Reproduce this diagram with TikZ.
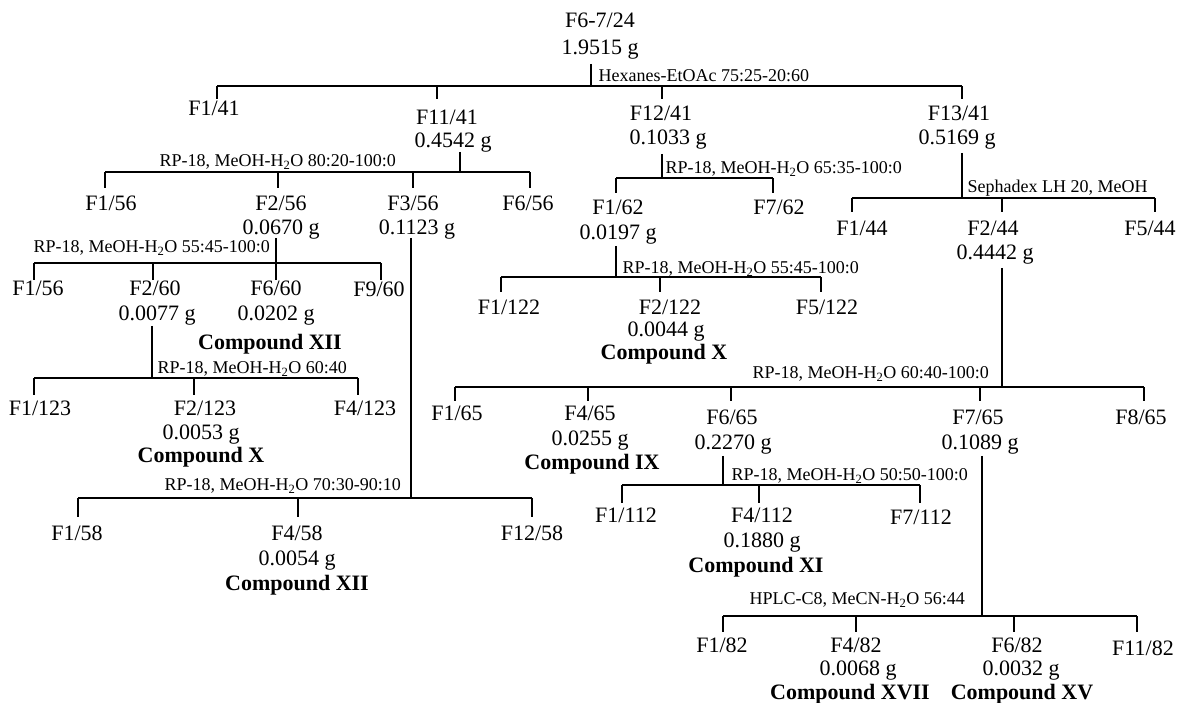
\documentclass[tikz,border=0pt]{standalone}
\usepackage{fontspec}
\setmainfont{Liberation Serif}
\newcommand\tk[5]{\path ([xshift=#3pt]#2.north) coordinate (tmp); \coordinate (#1) at (tmp |- #4); \draw (#1) -- ++(0,#5);}
\newcommand\stm[4]{\path ([xshift=#2pt]#1.south) coordinate (tmp); \draw (tmp) ++(0,#3) -- (tmp |- #4);}
\begin{document}
\begin{tikzpicture}[x=1pt,y=-1pt,line width=1.2pt,
  nm/.style={font=\fontsize{22}{24}\selectfont,inner sep=0pt,text height=14.6pt,text depth=0pt,anchor=center},
  cp/.style={nm,font=\fontsize{22}{24}\selectfont\bfseries},
  lb/.style={font=\fontsize{18}{20}\selectfont,inner sep=0pt,text height=11.9pt,text depth=0pt,anchor=west}]
\useasboundingbox[fill=white] (0,0) rectangle (1181,702);
% root
\node[nm] (r1) at (600,20) {F6-7/24};
\node[nm] (r2) at (600,47) {1.9515 g};
\node[nm] (a1) at (214,108) {F1/41};
\node[nm] (a2) at (447,117) {F11/41};
\node[nm] (a2m) at (453,140) {0.4542 g};
\node[nm] (a3) at (661,113) {F12/41};
\node[nm] (a3m) at (668,137) {0.1033 g};
\node[nm] (a4) at (959,113) {F13/41};
\node[nm] (a4m) at (957,137) {0.5169 g};
\coordinate (Y0) at (0,86);
\node[lb] (L0) at (598,76) {Hexanes-EtOAc 75:25-20:60};
\stm{r2}{-9}{9}{Y0}
\tk{t01}{a1}{3}{Y0}{13}\tk{t02}{a2}{-10}{Y0}{13}\tk{t03}{a3}{1}{Y0}{13}\tk{t04}{a4}{3}{Y0}{13}
\draw (t01) -- (t04);
% split 1
\node[nm] (b1) at (111,203) {F1/56};
\node[nm] (b2) at (281,203) {F2/56};
\node[nm] (b2m) at (281,227) {0.0670 g};
\node[nm] (b3) at (413,203) {F3/56};
\node[nm] (b3m) at (417,227) {0.1123 g};
\node[nm] (b4) at (528,203) {F6/56};
\coordinate (Y1) at (0,172);
\node[lb] (L1) at (159,161) {RP-18, MeOH-H\textsubscript{2}O 80:20-100:0};
\stm{a2m}{7}{4}{Y1}
\tk{t11}{b1}{-6}{Y1}{16}\tk{t12}{b2}{-3}{Y1}{16}\tk{t13}{b3}{0}{Y1}{16}\tk{t14}{b4}{2}{Y1}{16}
\draw (t11) -- (t14);
% split 2
\node[nm] (c1) at (38,288) {F1/56};
\node[nm] (c2) at (155,288) {F2/60};
\node[nm] (c2m) at (157,313) {0.0077 g};
\node[nm] (c3) at (276,288) {F6/60};
\node[nm] (c3m) at (276,313) {0.0202 g};
\node[cp] (c3c) at (270,342) {Compound XII};
\node[nm] (c4) at (379,289) {F9/60};
\coordinate (Y2) at (0,263);
\node[lb] (L2) at (33,247) {RP-18, MeOH-H\textsubscript{2}O 55:45-100:0};
\stm{b2m}{-5}{3}{Y2}
\tk{t21}{c1}{-4}{Y2}{17}\tk{t22}{c2}{-2}{Y2}{17}\tk{t23}{c3}{0}{Y2}{17}\tk{t24}{c4}{2}{Y2}{17}
\draw (t21) -- (t24);
% split 3
\node[nm] (d1) at (40,408) {F1/123};
\node[nm] (d2) at (205,408) {F2/123};
\node[nm] (d2m) at (201,432) {0.0053 g};
\node[cp] (d2c) at (201,455) {Compound X};
\node[nm] (d3) at (365,408) {F4/123};
\coordinate (Y3) at (0,378);
\node[lb] (L3) at (157,368) {RP-18, MeOH-H\textsubscript{2}O 60:40};
\stm{c2m}{-5}{5}{Y3}
\tk{t31}{d1}{-6}{Y3}{17}\tk{t32}{d2}{-11}{Y3}{17}\tk{t33}{d3}{-7}{Y3}{17}
\draw (t31) -- (t33);
% split 4
\node[nm] (e1) at (77,533) {F1/58};
\node[nm] (e2) at (297,533) {F4/58};
\node[nm] (e2m) at (297,558) {0.0054 g};
\node[cp] (e2c) at (297,583) {Compound XII};
\node[nm] (e3) at (532,533) {F12/58};
\coordinate (Y4) at (0,498);
\node[lb] (L4) at (164,485) {RP-18, MeOH-H\textsubscript{2}O 70:30-90:10};
\stm{b3m}{-6}{3}{Y4}
\tk{t41}{e1}{1}{Y4}{19}\tk{t42}{e2}{1}{Y4}{19}\tk{t43}{e3}{0}{Y4}{19}
\draw (t41) -- (t43);
% split 5
\node[nm] (f1) at (618,207) {F1/62};
\node[nm] (f1m) at (618,232) {0.0197 g};
\node[nm] (f2) at (779,207) {F7/62};
\coordinate (Y5) at (0,178);
\node[lb] (L5) at (665,168) {RP-18, MeOH-H\textsubscript{2}O 65:35-100:0};
\stm{a3m}{-6}{9}{Y5}
\tk{t51}{f1}{-2}{Y5}{15}\tk{t52}{f2}{-6}{Y5}{15}
\draw (t51) -- (t52);
% split 6
\node[nm] (g1) at (509,307) {F1/122};
\node[nm] (g2) at (670,307) {F2/122};
\node[nm] (g2m) at (666,329) {0.0044 g};
\node[cp] (g2c) at (664,352) {Compound X};
\node[nm] (g3) at (827,307) {F5/122};
\coordinate (Y6) at (0,277);
\node[lb] (L6) at (622,268) {RP-18, MeOH-H\textsubscript{2}O 55:45-100:0};
\stm{f1m}{-2}{6}{Y6}
\tk{t61}{g1}{-8}{Y6}{15}\tk{t62}{g2}{-10}{Y6}{15}\tk{t63}{g3}{-6}{Y6}{15}
\draw (t61) -- (t63);
% split 7
\node[nm] (h1) at (862,228) {F1/44};
\node[nm] (h2) at (993,228) {F2/44};
\node[nm] (h2m) at (995,252) {0.4442 g};
\node[nm] (h3) at (1150,228) {F5/44};
\coordinate (Y7) at (0,198);
\node[lb] (L7) at (967,187) {Sephadex LH 20, MeOH};
\stm{a4m}{5}{8}{Y7}
\tk{t71}{h1}{-10}{Y7}{14}\tk{t72}{h2}{9}{Y7}{14}\tk{t73}{h3}{5}{Y7}{14}
\draw (t71) -- (t73);
% split 8
\node[nm] (i1) at (457,413) {F1/65};
\node[nm] (i2) at (590,413) {F4/65};
\node[nm] (i2m) at (590,438) {0.0255 g};
\node[cp] (i2c) at (592,462) {Compound IX};
\node[nm] (i3) at (732,417) {F6/65};
\node[nm] (i3m) at (733,442) {0.2270 g};
\node[nm] (i4) at (978,417) {F7/65};
\node[nm] (i4m) at (980,442) {0.1089 g};
\node[nm] (i5) at (1141,417) {F8/65};
\coordinate (Y8) at (0,387);
\node[lb] (L8) at (752,373) {RP-18, MeOH-H\textsubscript{2}O 60:40-100:0};
\stm{h2m}{7}{8}{Y8}
\tk{t81}{i1}{-2}{Y8}{14}\tk{t82}{i2}{-2}{Y8}{14}\tk{t83}{i3}{-1}{Y8}{14}\tk{t84}{i4}{2}{Y8}{14}\tk{t85}{i5}{3}{Y8}{14}
\draw (t81) -- (t85);
% split 9
\node[nm] (j1) at (626,515) {F1/112};
\node[nm] (j2) at (762,515) {F4/112};
\node[nm] (j2m) at (762,540) {0.1880 g};
\node[cp] (j2c) at (756,565) {Compound XI};
\node[nm] (j3) at (921,517) {F7/112};
\coordinate (Y9) at (0,485);
\node[lb] (L9) at (731,475) {RP-18, MeOH-H\textsubscript{2}O 50:50-100:0};
\stm{i3m}{-10}{6}{Y9}
\tk{t91}{j1}{-4}{Y9}{18}\tk{t92}{j2}{-3}{Y9}{18}\tk{t93}{j3}{-1}{Y9}{18}
\draw (t91) -- (t93);
% split 10
\node[nm] (k1) at (722,645) {F1/82};
\node[nm] (k2) at (856,645) {F4/82};
\node[nm] (k2m) at (858,668) {0.0068 g};
\node[cp] (k2c) at (850,692) {Compound XVII};
\node[nm] (k3) at (1017,645) {F6/82};
\node[nm] (k3m) at (1021,668) {0.0032 g};
\node[cp] (k3c) at (1022,692) {Compound XV};
\node[nm] (k4) at (1143,648) {F11/82};
\coordinate (Y10) at (0,616);
\node[lb] (L10) at (749,599) {HPLC-C8, MeCN-H\textsubscript{2}O 56:44};
\stm{i4m}{2}{6}{Y10}
\tk{t101}{k1}{1}{Y10}{16}\tk{t102}{k2}{0}{Y10}{16}\tk{t103}{k3}{-3}{Y10}{16}\tk{t104}{k4}{-6}{Y10}{16}
\draw (t101) -- (t104);
\end{tikzpicture}
\end{document}
